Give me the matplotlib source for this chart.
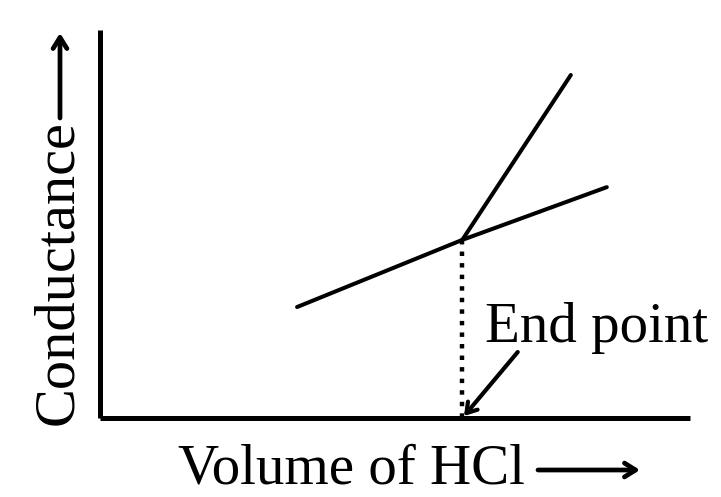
import matplotlib.pyplot as plt

# conductometric titration sketch (arbitrary units)
before_vol = [3.34, 6.14]
before_cond = [2.86, 4.59]
after_vol = [6.14, 7.98]
after_cond = [4.59, 8.84]
extrap_vol = [6.14, 8.59]
extrap_cond = [4.59, 5.95]
end_point = (6.14, 4.59)

W, H = 721, 497
plt.rcParams['font.family'] = ['Liberation Serif', 'DejaVu Serif']

fig = plt.figure(figsize=(W / 100, H / 100), dpi=100)
# axes box in pixel terms: x 100..690, y 30..418
ax = fig.add_axes([100 / W, 1 - 418 / H, 590 / W, 388 / H])
ax.set_xlim(0, 10)
ax.set_ylim(0, 10)
for s in ("top", "right"):
    ax.spines[s].set_visible(False)
for s in ("left", "bottom"):
    ax.spines[s].set_linewidth(3.6)
    ax.spines[s].set_capstyle("butt")
ax.set_xticks([])
ax.set_yticks([])
ax.patch.set_alpha(0)

lw = 2.9
ax.plot(before_vol, before_cond, color="black", lw=lw, solid_capstyle="round")
ax.plot(after_vol, after_cond, color="black", lw=lw, solid_capstyle="round")
ax.plot(extrap_vol, extrap_cond, color="black", lw=lw, solid_capstyle="round")

# dotted drop line from end point to x axis
ax.plot([end_point[0], end_point[0]], [end_point[1], 0], color="black", lw=3.2,
        linestyle=(0, (1, 1.6)), dash_capstyle="butt")

ax.annotate("", xy=(end_point[0] + 0.03, 0.05), xytext=(7.08, 1.70),
            arrowprops=dict(arrowstyle="->, head_length=0.7, head_width=0.45",
                            lw=3.0, color="black", shrinkA=0, shrinkB=0))
ax.text(6.53, 1.96, "End point", fontsize=41, ha="left", va="baseline")


def fx(px):
    return px / W


def fy(py):
    return 1 - py / H


fig.text(fx(178), fy(484), "Volume of HCl", fontsize=41, ha="left", va="baseline")
fig.text(fx(72), fy(425), "Conductance", fontsize=42, rotation=90,
         rotation_mode="anchor", ha="left", va="baseline")

arr = dict(arrowstyle="->, head_length=0.8, head_width=0.5", lw=3.4,
           color="black", shrinkA=0, shrinkB=0)
fig.add_artist(plt.Annotation("", xy=(fx(640), fy(470)), xytext=(fx(538), fy(470)),
                              xycoords="figure fraction", arrowprops=arr))
fig.add_artist(plt.Annotation("", xy=(fx(60), fy(33)), xytext=(fx(60), fy(118)),
                              xycoords="figure fraction", arrowprops=arr))

fig.savefig("out.png", dpi=100, facecolor="white")
